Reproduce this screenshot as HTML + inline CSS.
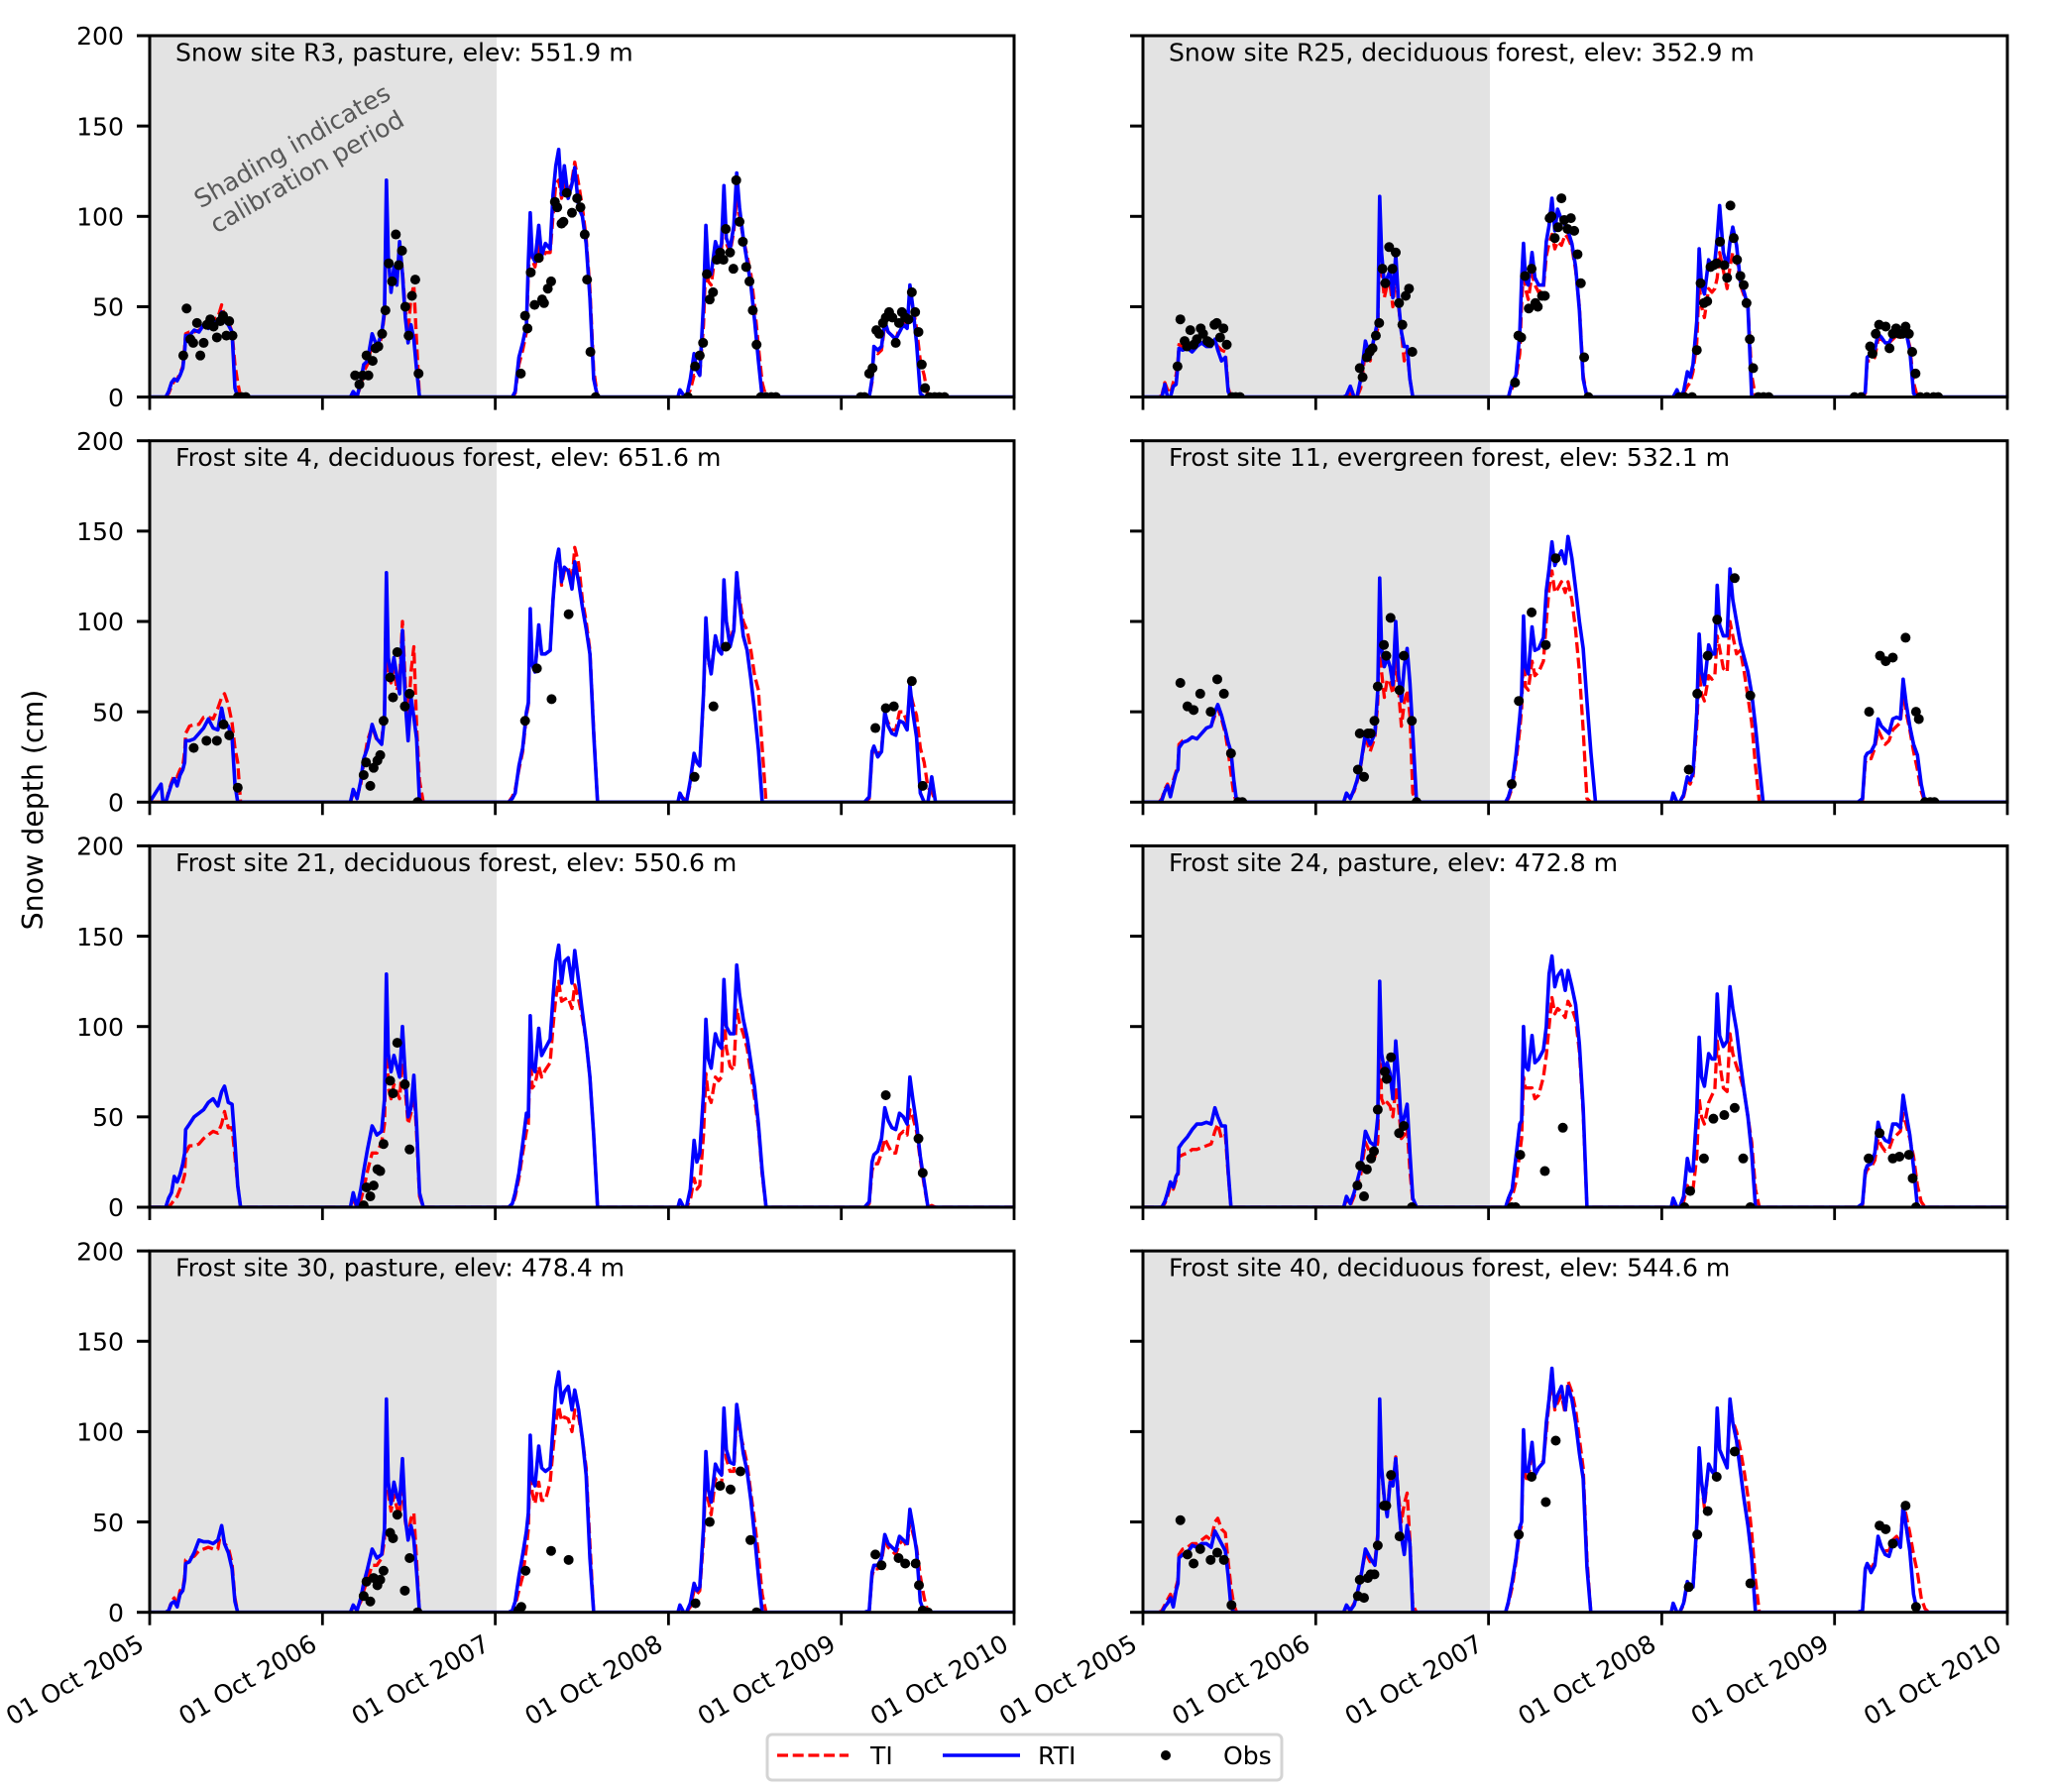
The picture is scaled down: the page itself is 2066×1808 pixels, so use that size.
<!DOCTYPE html>
<html lang="en">
<head>
<meta charset="utf-8">
<title>Snow depth at eight sites</title>
<style>
html,body{margin:0;padding:0;background:#fff;}
svg{display:block;font-family:"DejaVu Sans","Liberation Sans",sans-serif;}
</style>
</head>
<body>
<svg id="chart" xmlns="http://www.w3.org/2000/svg" width="2066" height="1808" viewBox="0 0 2066 1808"></svg>
<script>
// Sampling days (days since 01 Oct 2005) for each snow season
const seasonDays = [
[24,28,34,40,46,52,58,64,70,74,76,84,94,104,114,124,134,144,152,158,166,174,180,186,192,198],
[418,424,430,438,446,452,460,470,480,490,496,500,504,510,516,522,528,534,540,546,552,558,564,570,578],
[758,766,772,780,788,796,800,804,808,814,822,828,836,846,852,858,864,870,876,884,892,898,906,914,922,930,938,946,956],
[1116,1120,1128,1134,1142,1150,1156,1162,1170,1175,1180,1186,1195,1202,1208,1213,1218,1226,1234,1240,1246,1254,1262,1270,1278,1286,1294,1302,1310],
[1510,1520,1526,1530,1538,1546,1553,1560,1568,1576,1584,1592,1600,1606,1612,1620,1628,1636,1644,1652,1660]
];
const tickDays = [0,365,730,1096,1461,1826];
const tickLabels = ["01 Oct 2005","01 Oct 2006","01 Oct 2007","01 Oct 2008","01 Oct 2009","01 Oct 2010"];
const depthTicks = [0,50,100,150,200];
const calibrationEndDay = 733;
const siteTitles = ["Snow site R3, pasture, elev: 551.9 m","Snow site R25, deciduous forest, elev: 352.9 m","Frost site 4, deciduous forest, elev: 651.6 m","Frost site 11, evergreen forest, elev: 532.1 m","Frost site 21, deciduous forest, elev: 550.6 m","Frost site 24, pasture, elev: 472.8 m","Frost site 30, pasture, elev: 478.4 m","Frost site 40, deciduous forest, elev: 544.6 m"];

const rtiR3 = [
[0,0,0,3,8,10,9,12,16,25,34,34,37,36,40,38,42,41,47,42,40,36,5,0,0],
[0,0,3,0,9,18,20,35,28,35,48,120,78,58,72,62,86,68,44,30,40,32,15,0,0],
[0,0,3,22,30,40,75,102,78,75,95,78,85,82,112,128,137,112,128,110,118,127,105,100,85,55,10,0,0],
[0,4,1,0,10,24,15,12,52,95,70,68,86,80,85,117,88,82,95,124,105,88,75,62,42,20,0,0,0],
[0,0,10,28,26,28,42,36,34,32,36,40,38,62,50,30,2,0,0,0,0]
];
const tiR3 = [
[0,0,0,2,6,9,10,13,17,28,35,36,36,37,39,41,43,44,51,45,42,36,18,8,0,0],
[0,0,1,1,6,14,18,30,26,33,46,110,76,60,70,62,82,70,48,36,55,62,30,0,0],
[0,0,2,18,26,36,68,88,76,72,84,76,80,80,100,118,120,110,118,112,120,130,118,105,88,60,15,0,0],
[0,1,0,0,4,12,12,12,40,78,64,62,80,76,82,105,85,80,92,110,100,88,78,68,50,28,8,0,0],
[0,0,8,26,24,26,40,36,34,32,38,42,40,58,50,38,20,12,0,0,0]
];
const obsDaysR3 = [71,78,86,92,100,107,114,121,128,135,142,149,155,162,168,175,186,194,203,434,443,450,458,462,471,477,483,491,498,505,512,520,526,533,540,547,554,561,568,784,793,798,805,813,822,829,833,841,848,856,861,870,874,881,892,903,910,919,924,931,942,1137,1152,1162,1169,1177,1183,1190,1198,1205,1212,1217,1226,1233,1239,1246,1253,1260,1267,1274,1282,1291,1302,1313,1323,1502,1510,1520,1527,1535,1541,1549,1555,1562,1569,1576,1583,1589,1596,1603,1610,1617,1624,1631,1638,1647,1658,1668,1679];
const obsDepthR3 = [23,49,32,30,41,23,30,40,43,39,33,42,45,34,42,34,0,0,0,12,7,12,23,12,20,27,28,35,48,74,64,90,73,81,50,34,56,65,13,13,45,38,69,51,77,54,52,60,64,108,105,96,97,113,102,110,105,90,65,25,0,0,17,23,30,68,54,58,76,80,76,93,80,71,120,97,86,72,64,48,29,0,0,0,0,0,0,13,16,37,35,41,44,47,44,30,41,47,44,43,58,47,36,18,5,0,0,0,0];

const rtiR25 = [
[0,0,0,0,7,0,0,6,7,18,27,26,27,25,28,30,28,28,32,26,20,22,3,0,0,0],
[0,0,1,6,0,0,10,31,22,35,42,111,80,62,66,70,55,79,52,36,28,28,10,0,0],
[0,0,0,8,12,35,65,85,65,62,80,66,62,62,86,95,110,92,104,98,95,92,85,72,48,10,0,0,0],
[0,0,4,0,3,14,11,18,42,82,62,57,76,72,75,88,106,80,72,86,94,84,64,58,50,0,0,0,0],
[0,0,3,22,24,26,35,33,30,30,34,34,34,38,36,26,2,0,0,0,0]
];
const tiR25 = [
[0,0,0,1,8,4,2,8,12,20,29,28,26,26,29,29,29,30,31,28,26,25,5,0,0,0],
[0,0,0,2,0,0,5,25,20,32,38,95,70,55,62,62,50,70,50,36,20,26,10,0,0],
[0,0,0,5,10,24,52,70,60,54,68,62,58,60,78,85,90,82,86,84,90,88,83,70,50,12,0,0,0],
[0,0,2,1,2,6,8,14,30,62,50,44,60,58,60,66,80,70,60,72,80,78,62,56,50,12,0,0,0],
[0,0,2,20,20,22,32,32,30,30,32,34,33,36,36,28,8,0,0,0,0]
];
const obsDaysR25 = [73,79,88,93,100,107,114,122,127,136,141,151,156,163,170,177,188,196,205,458,464,473,479,485,492,499,506,512,520,527,534,541,548,555,562,569,786,793,799,807,815,821,829,834,843,849,859,863,870,877,884,890,897,904,911,918,925,932,941,1133,1144,1160,1170,1178,1185,1192,1199,1206,1212,1219,1228,1234,1241,1248,1255,1262,1269,1275,1282,1289,1300,1311,1322,1503,1517,1536,1541,1548,1555,1569,1577,1584,1591,1598,1604,1611,1618,1625,1632,1642,1656,1670,1680];
const obsDepthR25 = [17,43,31,28,37,29,32,38,35,31,30,40,41,33,38,29,0,0,0,16,11,22,25,27,34,41,71,63,83,71,80,52,40,56,60,25,8,34,33,67,49,71,52,50,56,56,99,100,88,94,110,98,93,99,92,79,63,22,0,0,0,0,26,63,52,53,72,73,74,86,73,66,106,88,76,67,62,52,32,16,0,0,0,0,0,28,24,35,40,39,27,35,38,35,35,39,35,25,13,0,0,0,0];

const rtiF4 = [
[10,0,0,5,10,13,9,15,18,22,34,34,35,38,41,46,41,40,52,44,42,36,10,0,0,0],
[0,0,7,2,12,24,30,43,35,32,48,127,80,70,80,70,60,95,55,34,58,47,35,0,0],
[0,2,5,20,30,50,55,107,76,72,98,82,82,84,112,132,140,122,130,128,118,133,122,108,96,82,38,0,0],
[0,5,1,0,12,27,22,20,60,102,80,71,92,84,82,123,100,86,95,127,110,92,84,68,50,29,0,0,0],
[0,3,28,31,25,28,50,42,38,37,45,44,40,65,50,36,5,0,0,14,0]
];
const tiF4 = [
[0,0,0,6,11,15,14,18,20,28,38,42,43,43,47,47,46,52,58,60,54,44,30,22,0,0],
[0,0,5,3,10,22,34,42,34,34,50,120,70,66,75,62,68,100,65,45,72,86,42,12,0],
[0,3,7,18,28,48,54,100,76,72,96,82,82,84,112,130,138,120,128,130,122,141,132,112,100,84,40,0,0],
[0,4,2,1,10,26,22,20,58,98,78,72,92,84,82,120,100,90,96,125,113,100,95,84,70,62,30,0,0],
[0,2,26,30,26,30,48,44,40,40,50,50,44,62,55,48,30,22,8,6,0]
];
const obsDaysF4 = [93,120,142,156,168,186,452,457,466,473,481,487,494,508,514,523,539,549,566,793,818,849,885,1151,1191,1217,1533,1555,1572,1610,1633];
const obsDepthF4 = [30,34,34,43,37,8,15,22,9,19,23,26,45,69,58,83,53,60,0,45,74,57,104,14,53,86,41,52,53,67,9];

const rtiF11 = [
[0,0,0,1,6,9,3,10,16,18,30,33,34,36,35,38,41,42,50,54,48,40,33,28,12,0],
[0,0,5,2,7,12,21,38,32,38,62,124,85,75,80,75,65,100,70,56,75,85,66,38,0],
[0,0,3,10,26,47,60,103,75,71,97,84,85,91,117,129,144,131,135,139,132,147,135,118,100,85,56,28,0],
[0,5,0,0,4,14,12,16,50,93,72,65,87,82,82,120,98,92,92,129,112,100,88,80,72,60,42,20,0],
[0,2,25,27,28,32,46,42,40,38,46,47,46,68,55,42,32,26,10,0,0]
];
const tiF11 = [
[0,0,0,2,7,10,4,12,17,20,32,34,34,36,35,38,41,42,48,52,46,38,28,16,4,0],
[0,0,4,3,6,11,20,36,28,36,55,110,72,58,68,66,60,80,62,42,55,62,48,5,0],
[0,0,2,8,22,40,52,85,64,62,78,70,72,78,100,118,128,116,118,122,116,122,112,95,72,40,2,0,0],
[0,4,0,1,3,12,10,14,42,72,60,56,70,68,70,92,85,74,72,100,92,82,84,72,58,44,20,0,0],
[0,1,22,24,24,30,40,36,32,34,40,42,44,60,50,40,28,18,6,0,0]
];
const obsDaysF11 = [79,94,107,121,143,157,171,186,201,210,454,458,467,475,481,489,496,509,514,523,542,551,568,578,779,794,821,851,872,1153,1171,1193,1213,1250,1283,1534,1557,1569,1584,1611,1633,1639,1652,1663,1672];
const obsDepthF11 = [66,53,51,60,50,68,60,27,0,0,18,38,14,38,38,45,64,87,81,102,62,81,45,0,10,56,105,87,135,18,60,81,101,124,59,50,81,78,80,91,50,46,0,0,0];

const rtiF21 = [
[0,0,0,5,8,17,14,18,24,30,43,46,50,52,54,58,60,56,64,67,58,57,36,12,0,0],
[0,0,8,0,10,20,32,45,40,42,60,129,85,75,84,78,72,100,72,50,55,73,45,8,0],
[0,2,8,19,35,52,50,106,78,75,99,84,88,93,116,136,145,124,136,138,124,142,125,108,92,72,40,0,0],
[0,4,0,0,10,37,25,30,63,104,82,77,96,90,88,126,100,96,96,134,118,104,94,80,66,46,20,0,0],
[0,3,25,29,31,38,55,48,44,43,52,50,46,72,60,46,28,14,0,0,0]
];
const tiF21 = [
[0,0,0,0,2,4,6,10,14,18,30,34,34,35,38,40,42,41,46,53,44,44,28,12,0,0],
[0,0,4,0,4,10,20,30,30,36,46,105,66,60,68,64,60,80,64,46,52,66,40,6,0],
[0,1,6,16,30,42,46,88,66,68,78,72,76,80,100,116,125,114,115,116,110,123,115,105,92,72,40,0,0],
[0,2,0,0,4,16,10,12,40,74,62,58,72,70,72,108,88,78,76,110,102,96,88,74,60,44,18,0,0],
[0,2,20,24,24,30,38,34,30,30,40,42,40,54,50,42,26,12,0,1,0]
];
const obsDaysF21 = [452,458,466,473,481,487,494,508,514,523,539,549,1555,1624,1633];
const obsDepthF21 = [1,11,6,12,21,20,35,70,63,91,68,32,62,38,19];

const rtiF24 = [
[0,0,0,0,3,8,14,11,17,19,33,36,39,43,46,46,47,46,55,50,45,45,20,0,0,0],
[0,0,6,2,8,14,22,42,36,34,50,125,85,76,80,74,60,92,70,45,50,57,30,5,0],
[0,0,5,10,28,46,48,100,78,76,95,80,82,87,100,129,139,122,128,131,120,131,122,112,90,55,0,0,0],
[0,5,0,0,6,27,20,20,53,94,72,67,85,82,82,118,95,89,92,122,110,98,80,64,50,30,0,0,0],
[0,2,20,23,24,30,47,40,37,36,46,46,44,62,52,40,22,0,0,0,0]
];
const tiF24 = [
[0,0,0,0,2,6,12,10,15,16,28,29,30,32,32,33,34,35,42,46,38,40,18,0,0,0],
[0,0,4,1,6,12,18,36,30,28,36,100,60,56,58,56,50,66,55,38,40,44,20,3,0],
[0,0,3,6,14,30,38,72,66,66,66,60,62,72,84,100,116,107,110,108,105,114,110,104,86,52,0,0,0],
[0,2,0,0,3,12,8,10,28,60,50,46,58,62,65,92,80,66,64,96,85,78,72,64,50,36,10,0,0],
[0,1,18,21,22,26,38,34,31,32,38,40,42,52,46,38,28,12,3,0,0]
];
const obsDaysF24 = [453,459,467,473,482,488,496,511,515,524,541,551,568,779,787,797,849,887,1144,1156,1185,1205,1228,1250,1268,1283,1533,1556,1584,1598,1618,1626,1633];
const obsDepthF24 = [12,23,6,21,27,31,54,75,71,83,41,45,0,0,0,29,20,44,0,9,27,49,51,55,27,0,27,41,27,28,29,16,0];

const rtiF30 = [
[0,0,0,1,5,6,3,10,12,18,27,28,33,40,39,39,38,40,48,38,33,24,6,0,0,0],
[0,0,4,1,8,16,24,35,30,32,46,118,72,60,72,65,60,85,52,40,48,40,22,0,0],
[0,1,6,20,32,45,55,98,74,70,92,80,78,80,102,124,133,116,122,125,112,123,112,96,76,30,0,0,0],
[0,4,0,0,5,16,12,14,47,89,68,61,82,78,76,113,90,83,82,115,104,88,78,62,42,20,0,0,0],
[0,1,22,26,26,30,43,38,36,34,42,40,38,57,48,34,6,0,0,0,0]
];
const tiF30 = [
[0,0,0,1,6,8,4,12,13,20,29,30,31,34,35,36,35,35,47,38,36,27,8,0,0,0],
[0,0,3,2,6,12,18,26,26,30,40,110,66,56,65,58,54,72,50,42,52,55,28,0,0],
[0,1,4,12,20,36,46,84,66,60,72,62,62,72,90,105,114,106,108,107,100,112,108,96,80,38,0,0,0],
[0,3,0,0,3,12,10,12,40,80,62,54,74,70,70,108,85,78,78,112,100,92,82,66,50,32,10,0,0],
[0,1,20,24,24,28,40,36,34,32,38,40,36,50,44,36,20,8,0,0,0]
];
const obsDaysF30 = [452,458,466,473,481,487,494,508,514,523,539,549,566,779,785,794,848,885,1153,1183,1205,1227,1248,1269,1282,1533,1546,1582,1596,1618,1625,1633,1644];
const obsDepthF30 = [9,17,6,19,15,18,23,44,41,54,12,30,0,1,3,23,34,29,5,50,70,68,78,40,0,32,26,30,27,27,15,1,0];

const rtiF40 = [
[0,0,0,0,3,5,8,3,12,16,30,32,33,37,36,38,38,36,45,42,38,34,20,3,0,0],
[0,0,4,1,4,10,19,35,30,26,42,118,80,63,53,72,70,85,60,42,32,48,38,0,0],
[0,0,6,17,30,47,50,101,78,78,94,76,80,83,105,118,135,114,120,125,112,125,118,105,88,74,25,0,0],
[0,5,0,0,5,17,14,14,49,91,72,61,82,78,76,113,90,85,80,118,105,95,78,62,48,30,0,0,0],
[0,1,24,27,22,26,42,36,32,31,38,40,36,59,48,34,10,0,0,0,0]
];
const tiF40 = [
[0,0,0,1,4,7,10,5,14,18,32,35,36,38,38,40,42,40,50,52,46,44,28,14,4,0],
[0,0,3,1,5,10,20,33,28,28,44,110,78,62,55,74,70,86,64,50,60,66,40,4,0],
[0,0,5,14,28,45,48,95,75,72,92,76,80,84,100,116,130,112,116,120,110,128,122,112,96,80,30,0,0],
[0,4,0,0,4,16,12,14,45,86,72,58,82,78,76,110,90,85,82,116,106,100,90,78,64,44,18,0,0],
[0,1,24,27,24,28,40,36,34,34,40,42,38,60,54,44,32,22,8,2,0]
];
const obsDaysF40 = [79,94,107,121,143,157,171,187,454,458,467,475,481,489,496,509,514,524,542,794,821,851,872,1153,1171,1193,1212,1250,1283,1556,1569,1584,1611,1633];
const obsDepthF40 = [51,32,27,35,29,33,29,4,9,18,8,19,21,21,37,59,59,76,42,43,75,61,95,14,43,56,75,89,16,48,46,38,59,3];

const rtiSeries = [rtiR3,rtiR25,rtiF4,rtiF11,rtiF21,rtiF24,rtiF30,rtiF40];
const tiSeries = [tiR3,tiR25,tiF4,tiF11,tiF21,tiF24,tiF30,tiF40];
const obsDaysSeries = [obsDaysR3,obsDaysR25,obsDaysF4,obsDaysF11,obsDaysF21,obsDaysF24,obsDaysF30,obsDaysF40];
const obsDepthSeries = [obsDepthR3,obsDepthR25,obsDepthF4,obsDepthF11,obsDepthF21,obsDepthF24,obsDepthF30,obsDepthF40];

const SVGNS = "http://www.w3.org/2000/svg";
const svg = document.getElementById("chart");
const PANEL_W = 872, PANEL_H = 364.6, FIRST_TOP = 36, ROW_STEP = 408.7;
const COL_LEFT = [151, 1153];
const TOTAL_DAYS = 1826, MAX_DEPTH = 200;
const FONT = 25.1;

function xScale(left, day){ return left + day * PANEL_W / TOTAL_DAYS; }
function yScale(top, depth){ return top + PANEL_H * (1 - depth / MAX_DEPTH); }
function make(tag, attrs, parent){
  const n = document.createElementNS(SVGNS, tag);
  for (const k in attrs) n.setAttribute(k, attrs[k]);
  (parent || svg).appendChild(n);
  return n;
}
function seriesPath(left, top, seasons){
  let d = "M" + xScale(left,0).toFixed(1) + " " + yScale(top,0).toFixed(1);
  seasonDays.forEach(function(days, s){
    const vals = seasons[s] || [];
    days.forEach(function(day, i){
      const v = vals[i] === undefined ? 0 : vals[i];
      d += "L" + xScale(left,day).toFixed(1) + " " + yScale(top,v).toFixed(1);
    });
  });
  d += "L" + xScale(left,TOTAL_DAYS).toFixed(1) + " " + yScale(top,0).toFixed(1);
  return d;
}

siteTitles.forEach(function(title, p){
  const col = p % 2, row = Math.floor(p / 2);
  const left = COL_LEFT[col], top = FIRST_TOP + row * ROW_STEP;
  const g = make("g", {});
  
  

  const shade = make("rect", {x:left, y:top, width:xScale(left,calibrationEndDay)-left, height:PANEL_H, fill:"#e3e3e3"}, g);
  
  

  const clipId = "clip" + p;
  const cp = make("clipPath", {id:clipId}, g);
  make("rect", {x:left, y:top, width:PANEL_W, height:PANEL_H}, cp);

  const marks = make("g", {"clip-path":"url(#"+clipId+")"}, g);
  const ti = make("path", {d:seriesPath(left,top,tiSeries[p]), fill:"none", stroke:"#ff0000", "stroke-width":3.3, "stroke-dasharray":"11 4.7", "stroke-linejoin":"round"}, marks);
  
  
  const rti = make("path", {d:seriesPath(left,top,rtiSeries[p]), fill:"none", stroke:"#0000ff", "stroke-width":3.6, "stroke-linejoin":"round"}, marks);
  
  
  obsDaysSeries[p].forEach(function(day, i){
    const dot = make("circle", {cx:xScale(left,day), cy:yScale(top,obsDepthSeries[p][i]), r:5, fill:"#000"}, marks);
    
    
  });

  const frame = make("rect", {x:left, y:top, width:PANEL_W, height:PANEL_H, fill:"none", stroke:"#000", "stroke-width":3}, g);
  
  

  depthTicks.forEach(function(v){
    const y = yScale(top,v);
    const t = make("line", {x1:left-13, x2:left, y1:y, y2:y, stroke:"#000", "stroke-width":3}, g);
    
    
    if (col === 0){
      const lab = make("text", {x:125, y:y+9.2, "text-anchor":"end", "font-size":FONT, fill:"#000"}, g);
      lab.textContent = v;
      
      
    }
  });
  tickDays.forEach(function(day, i){
    const x = xScale(left,day), y = top + PANEL_H;
    const t = make("line", {x1:x, x2:x, y1:y, y2:y+13, stroke:"#000", "stroke-width":2.8}, g);
    
    
    if (row === 3){
      const lab = make("text", {x:x-4, y:y+37, "text-anchor":"end", "font-size":FONT, fill:"#000", transform:"rotate(-30 "+(x-4)+" "+(y+37)+")"}, g);
      lab.textContent = tickLabels[i];
      
      
    }
  });

  const ttl = make("text", {x:left+26, y:top+25.5, "font-size":FONT, fill:"#000"}, g);
  ttl.textContent = title;
  
  
});

const note = make("text", {transform:"translate(302 160) rotate(-30)", "text-anchor":"middle", "font-size":FONT, fill:"#585858"});


const noteA = make("tspan", {x:0, y:-6}, note);
noteA.textContent = "Shading indicates";
const noteB = make("tspan", {x:0, y:24}, note);
noteB.textContent = "calibration period";

const ylab = make("text", {transform:"translate(43 817) rotate(-90)", "text-anchor":"middle", "font-size":28.4, fill:"#000"});
ylab.textContent = "Snow depth (cm)";



const legend = make("g", {});


const legendBox = make("rect", {x:774, y:1750, width:519, height:46, rx:5, ry:5, fill:"#fff", stroke:"#d4d4d4", "stroke-width":3}, legend);


const lgTi = make("line", {x1:784, x2:856, y1:1771, y2:1771, stroke:"#ff0000", "stroke-width":3.3, "stroke-dasharray":"11 4.7"}, legend);


const lgTiText = make("text", {x:878, y:1780, "font-size":FONT, fill:"#000"}, legend);
lgTiText.textContent = "TI";


const lgRti = make("line", {x1:951, x2:1029, y1:1771, y2:1771, stroke:"#0000ff", "stroke-width":3.6}, legend);


const lgRtiText = make("text", {x:1047, y:1780, "font-size":FONT, fill:"#000"}, legend);
lgRtiText.textContent = "RTI";


const lgObs = make("circle", {cx:1176, cy:1771, r:5, fill:"#000"}, legend);


const lgObsText = make("text", {x:1234, y:1780, "font-size":FONT, fill:"#000"}, legend);
lgObsText.textContent = "Obs";


</script>
</body>
</html>
